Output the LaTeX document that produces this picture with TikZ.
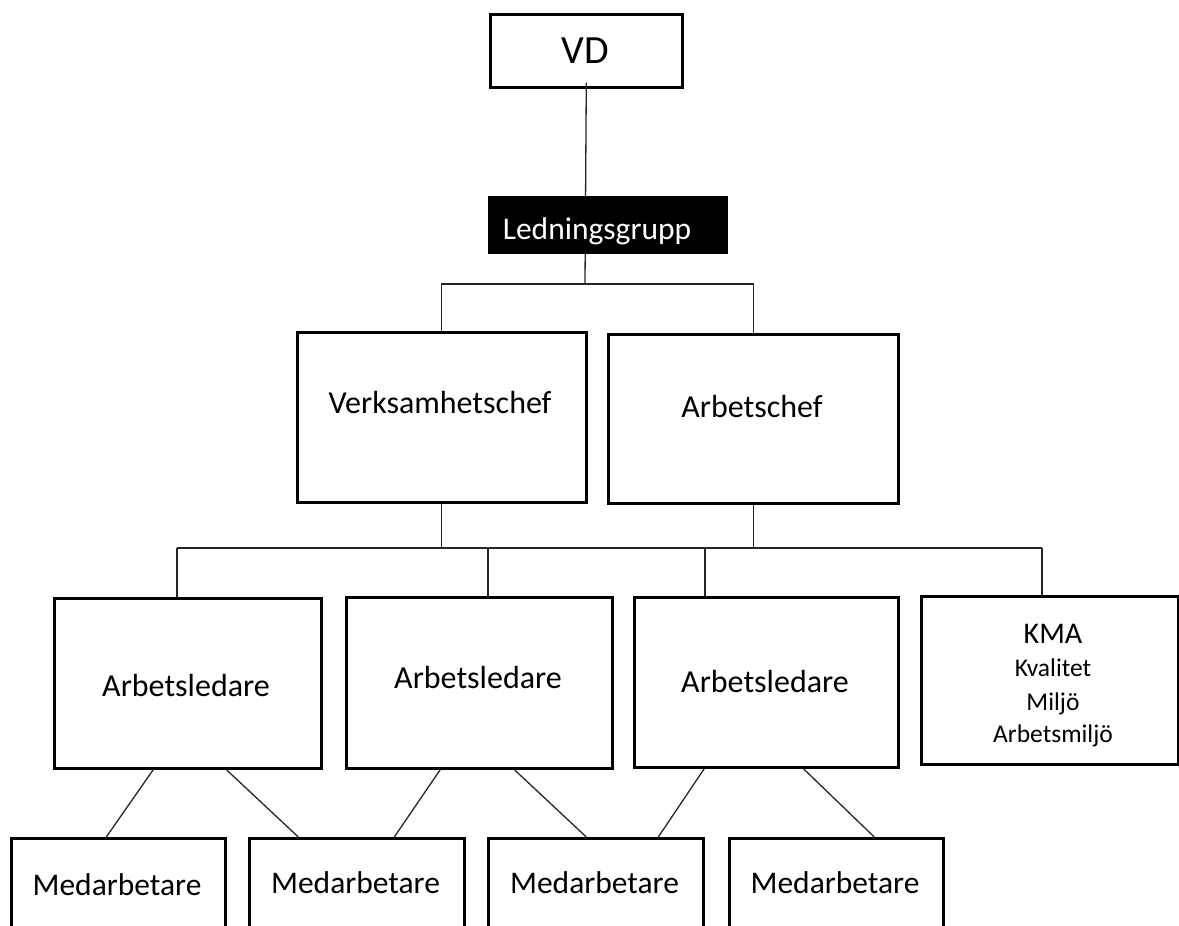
\documentclass[tikz,border=0pt]{standalone}
\usepackage{fontspec}
\setmainfont{Carlito}
\begin{document}
\begin{tikzpicture}[x=1pt,y=-1pt,
  box/.style={draw=black, line width=2.6pt, inner sep=0pt, anchor=north west, fill=white},
  conn/.style={line width=1.3pt, draw=black!85},
  lbl/.style={inner sep=0pt, anchor=base, font=\fontsize{32}{36}\selectfont},
  sub/.style={inner sep=0pt, anchor=base, font=\fontsize{25.5}{30}\selectfont}]
\useasboundingbox (0,0) rectangle (1179,926);
\clip (0,0) rectangle (1179,926);
% junction coordinates
\coordinate (j1) at (585,284);
\coordinate (b1) at (177,548);
\coordinate (b2) at (488,548);
\coordinate (b3) at (705,548);
\coordinate (b4) at (1042,548);
% boxes
\node[box, minimum width=192, minimum height=73] (vd) at (489,13) {};
\node[box, minimum width=289, minimum height=170] (vc) at (296,331) {};
\node[box, minimum width=290, minimum height=169] (ac) at (607,333) {};
\node[box, minimum width=267, minimum height=170] (al1) at (53,597) {};
\node[box, minimum width=266, minimum height=171] (al2) at (345,596) {};
\node[box, minimum width=264, minimum height=170] (al3) at (633,596) {};
\node[box, minimum width=257, minimum height=168] (kma) at (920,595) {};
\node[box, minimum width=214, minimum height=100] (m1) at (10,837) {};
\node[box, minimum width=215, minimum height=100] (m2) at (248,837) {};
\node[box, minimum width=215, minimum height=100] (m3) at (487,837) {};
\node[box, minimum width=214, minimum height=100] (m4) at (728,837) {};
% connectors
\draw[conn] ([yshift=6pt]vd.south) -- (j1);
\draw[conn] (vc.north) |- (j1) -| (ac.north);
\draw[conn] (b1) -- (b4);
\draw[conn] (vc.south) -- (vc.south |- b1);
\draw[conn] (ac.south) -- (ac.south |- b1);
\draw[conn] (b1) -- (b1 |- al1.north);
\draw[conn] (b2) -- (b2 |- al2.north);
\draw[conn] (b3) -- (b3 |- al3.north);
\draw[conn] (b4) -- (b4 |- kma.north);
\draw[conn] ([xshift=-34.5pt]al1.south) -- ([xshift=-12pt]m1.north);
\draw[conn] ([xshift=38.5pt]al1.south) -- ([xshift=-58.5pt]m2.north);
\draw[conn] ([xshift=-39pt]al2.south) -- ([xshift=37.5pt]m2.north);
\draw[conn] ([xshift=35pt]al2.south) -- ([xshift=-9.5pt]m3.north);
\draw[conn] ([xshift=-62pt]al3.south) -- ([xshift=62.5pt]m3.north);
\draw[conn] ([xshift=37pt]al3.south) -- ([xshift=38pt]m4.north);
% black box
\node[fill=black, inner sep=0pt, anchor=north west, minimum width=240, minimum height=58] (lg) at (488,196) {};
% texts
\node[lbl, font=\fontsize{40}{44}\selectfont] (vdt) at (585,63) {VD};
\node[lbl, font=\fontsize{31.5}{36}\selectfont, text=white] (lgt) at (597,239) {Ledningsgrupp};
\node[lbl] (vct) at (440,413) {Verksamhetschef};
\node[lbl] (act) at (752,417) {Arbetschef};
\node[lbl] (al1t) at (186,696) {Arbetsledare};
\node[lbl] (al2t) at (478,688) {Arbetsledare};
\node[lbl] (al3t) at (765,692) {Arbetsledare};
\node[lbl, font=\fontsize{30}{34}\selectfont] (kmat) at (1053,643) {KMA};
\node[sub] (kv) at (1053,676) {Kvalitet};
\node[sub] (mi) at (1053,710) {Miljö};
\node[sub] (am) at (1053,742) {Arbetsmiljö};
\node[lbl, font=\fontsize{31.5}{36}\selectfont] (m1t) at (117,895) {Medarbetare};
\node[lbl, font=\fontsize{31.5}{36}\selectfont] (m2t) at (355.5,893) {Medarbetare};
\node[lbl, font=\fontsize{31.5}{36}\selectfont] (m3t) at (594.5,893) {Medarbetare};
\node[lbl, font=\fontsize{31.5}{36}\selectfont] (m4t) at (835,893) {Medarbetare};
\end{tikzpicture}
\end{document}
